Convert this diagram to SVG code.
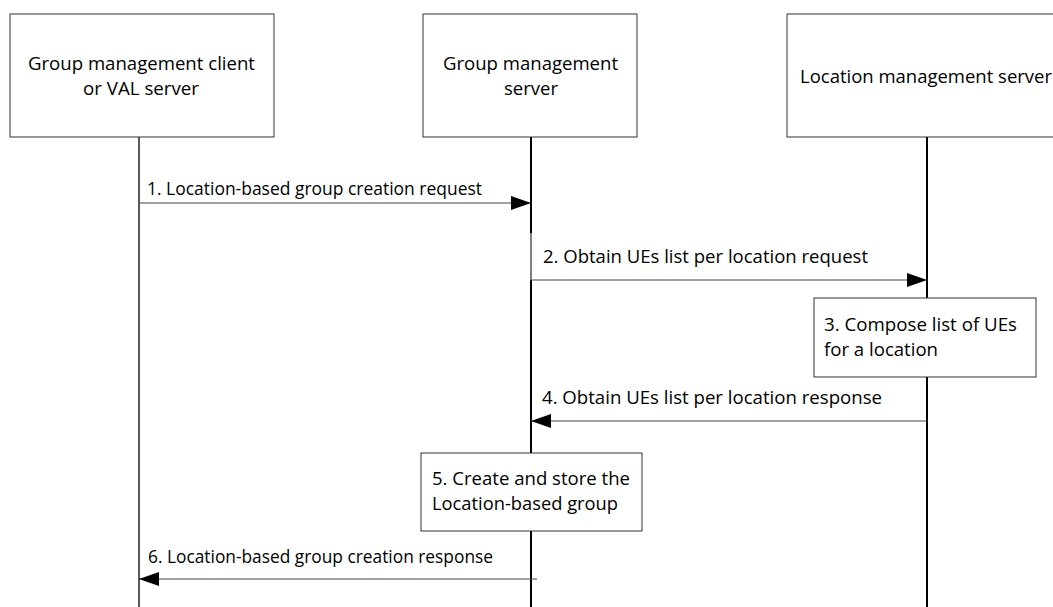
<svg xmlns="http://www.w3.org/2000/svg" width="1053" height="607" viewBox="0 0 1053 607">
<style>
text{font-family:"Open Sans","Liberation Sans",sans-serif;font-size:18.5px;fill:#000}
.c{text-anchor:middle}
.box{fill:#fff;stroke:#333;stroke-width:1}
.life{stroke:#000;stroke-width:2;fill:none}
.msg{stroke:#444;stroke-width:1;fill:none}
</style>
<defs>
<marker id="ah" markerWidth="20" markerHeight="14" refX="20" refY="7" orient="auto" markerUnits="userSpaceOnUse">
<path d="M0,0 L20,7 L0,14 Z" fill="#000"/>
</marker>
</defs>
<rect width="1053" height="607" fill="#fff"/>
<g id="lifelines">
<line class="life" x1="139" y1="137" x2="139" y2="607" style="stroke-width:1.3"/>
<line class="life" x1="531" y1="137" x2="531" y2="233"/>
<line class="life" x1="531" y1="233" x2="531" y2="280" style="stroke-width:1"/>
<line class="life" x1="531" y1="280" x2="531" y2="607"/>
<line class="life" x1="927" y1="137" x2="927" y2="607"/>
</g>
<g id="node-client">
<rect class="box" x="10" y="14" width="264" height="123"/>
<text class="c" x="141.5" y="70" textLength="227" lengthAdjust="spacingAndGlyphs">Group management client</text>
<text class="c" x="141" y="95" textLength="116" lengthAdjust="spacingAndGlyphs">or VAL server</text>
</g>
<g id="node-gms">
<rect class="box" x="423" y="14" width="214" height="123"/>
<text class="c" x="530.5" y="70" textLength="175" lengthAdjust="spacingAndGlyphs">Group management</text>
<text class="c" x="531" y="95" textLength="54" lengthAdjust="spacingAndGlyphs">server</text>
</g>
<g id="node-lms">
<rect class="box" x="787" y="14" width="280" height="123"/>
<text x="800" y="83" textLength="252" lengthAdjust="spacingAndGlyphs">Location management server</text>
</g>
<g id="step3">
<rect class="box" x="814" y="298" width="222" height="79"/>
<text x="824" y="331" textLength="193" lengthAdjust="spacingAndGlyphs">3. Compose list of UEs</text>
<text x="824" y="356" textLength="114" lengthAdjust="spacingAndGlyphs">for a location</text>
</g>
<g id="step5">
<rect class="box" x="421" y="453" width="221" height="78"/>
<text x="432" y="485" textLength="198" lengthAdjust="spacingAndGlyphs">5. Create and store the</text>
<text x="432" y="510" textLength="186" lengthAdjust="spacingAndGlyphs">Location-based group</text>
</g>
<g id="connectors">
<line class="msg" x1="139" y1="203" x2="531" y2="203" marker-end="url(#ah)"/>
<text x="147" y="195" textLength="335" lengthAdjust="spacingAndGlyphs">1. Location-based group creation request</text>
<line class="msg" x1="531" y1="280" x2="927" y2="280" marker-end="url(#ah)"/>
<text x="543" y="263" textLength="325" lengthAdjust="spacingAndGlyphs">2. Obtain UEs list per location request</text>
<line class="msg" x1="927" y1="421" x2="531" y2="421" marker-end="url(#ah)"/>
<text x="542" y="404" textLength="340" lengthAdjust="spacingAndGlyphs">4. Obtain UEs list per location response</text>
<line class="msg" x1="537" y1="579" x2="139" y2="579" marker-end="url(#ah)"/>
<text x="148" y="563" textLength="345" lengthAdjust="spacingAndGlyphs">6. Location-based group creation response</text>
</g>
</svg>
